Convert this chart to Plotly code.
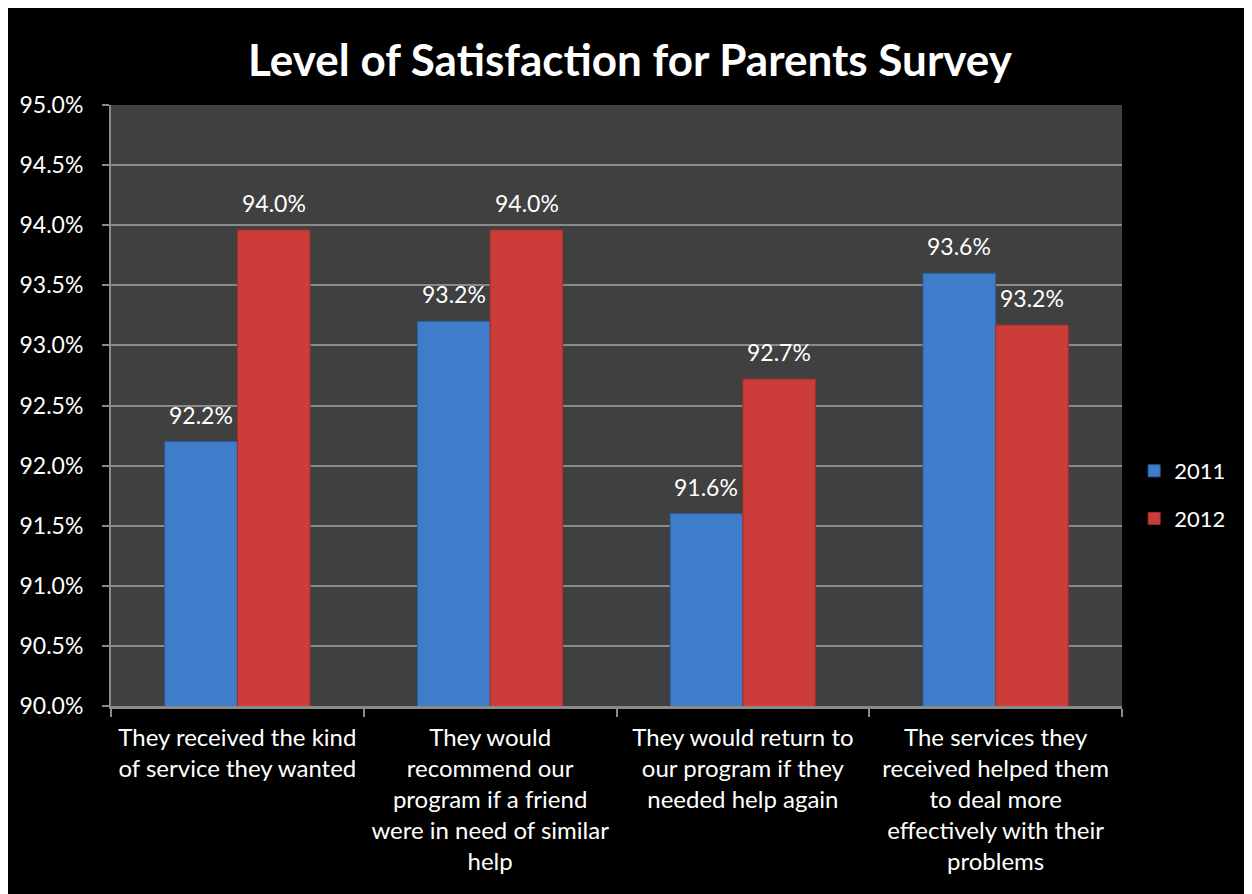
import plotly.graph_objects as go

categories = [
    "They received the kind<br>of service they wanted",
    "They would<br>recommend our<br>program if a friend<br>were in need of similar<br>help",
    "They would return to<br>our program if they<br>needed help again",
    "The services they<br>received helped them<br>to deal more<br>effectively with their<br>problems",
]
series_names = ["2011", "2012"]
values_2011 = [92.2, 93.2, 91.6, 93.6]
values_2012 = [93.96, 93.96, 92.72, 93.17]
y_ticks = [90.0, 90.5, 91.0, 91.5, 92.0, 92.5, 93.0, 93.5, 94.0, 94.5, 95.0]
title_text = "Level of Satisfaction for Parents Survey"

FONT = "Lato, 'Open Sans', sans-serif"
W, H = 1252, 894
ML, MR, MT, MB = 99, 138, 97, 196
PW, PH = W - ML - MR, H - MT - MB

fig = go.Figure()
fig.add_trace(go.Bar(
    x=categories, y=values_2011, name=series_names[0], legendgroup="a",
    marker=dict(color="#3F7DCB", line=dict(color="#2E5E9E", width=1)),
    hoverinfo="skip",
))
fig.add_trace(go.Bar(
    x=categories, y=values_2012, name=series_names[1], legendgroup="b",
    marker=dict(color="#CC3D39", line=dict(color="#9E2E2B", width=1)),
    hoverinfo="skip",
))

bar_px = PW / len(categories) * (1 - 0.425) / 2
annotations = []
for i, c in enumerate(categories):
    for v, sh in ((values_2011[i], -bar_px / 2), (values_2012[i], bar_px / 2)):
        annotations.append(dict(
            x=c, y=v, xref="x", yref="y", text=f"{v:.1f}%", showarrow=False,
            xshift=sh, yshift=27, yanchor="middle",
            font=dict(family=FONT, size=23, color="white"),
        ))

fig.update_layout(
    width=W, height=H,
    margin=dict(l=ML, r=MR, t=MT, b=MB),
    paper_bgcolor="black",
    plot_bgcolor="#404040",
    barmode="group",
    bargap=0.425,
    bargroupgap=0,
    title=dict(text=f"<b>{title_text}</b>", x=(630 - 8) / W, xanchor="center",
               y=1 - 53 / H, yanchor="middle", yref="container",
               font=dict(family=FONT, size=44, color="white")),
    font=dict(family=FONT, color="white", size=22),
    legend=dict(x=1.012, xanchor="left", y=0.351, yanchor="middle",
                font=dict(family=FONT, size=22, color="white"),
                bgcolor="rgba(0,0,0,0)", tracegroupgap=16),
    annotations=annotations,
    showlegend=True,
)

fig.update_yaxes(
    range=[90, 95], tickvals=y_ticks, ticktext=[f"{t:.1f}%" for t in y_ticks],
    showgrid=True, gridcolor="#8a8a8a", gridwidth=1.5,
    showline=True, linecolor="#8a8a8a", linewidth=2,
    ticks="outside", ticklen=7, tickcolor="#8a8a8a", tickwidth=2,
    ticklabelstandoff=14,
    tickfont=dict(family=FONT, size=23, color="white"),
    zeroline=False,
)
fig.update_xaxes(
    tickson="boundaries", ticks="outside", ticklen=8, tickcolor="#8a8a8a", tickwidth=2,
    showline=True, linecolor="#8a8a8a", linewidth=2.5,
    showgrid=False, ticklabelstandoff=8,
    tickfont=dict(family=FONT, size=24, color="white"),
)

fig.write_html("out.html")
